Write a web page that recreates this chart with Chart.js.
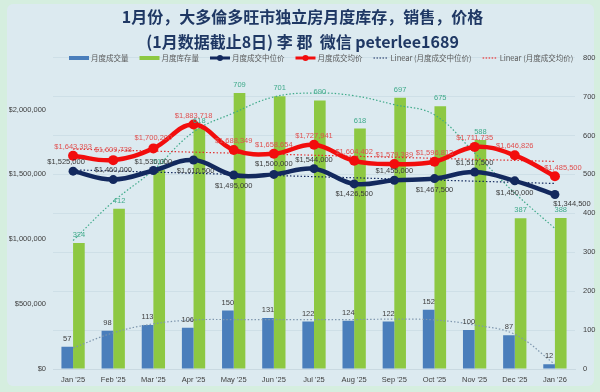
<!DOCTYPE html>
<html>
<head>
<meta charset="utf-8">
<script src="https://cdn.jsdelivr.net/npm/chart.js@4.4.1/dist/chart.umd.min.js"></script>
<style>
    html, body { margin: 0; padding: 0; background: #D5EEDF; }
    #wrap { width: 600px; height: 392px; }
</style>
</head>
<body>
<div id="wrap"><canvas id="chart"></canvas></div>
<script>
const months = ["Jan '25", "Feb '25", "Mar '25", "Apr '25", "May '25", "Jun '25", "Jul '25", "Aug '25", "Sep '25", "Oct '25", "Nov '25", "Dec '25", "Jan '26"];
const sales = [57, 98, 113, 106, 150, 131, 122, 124, 122, 152, 100, 87, 12];
const inventory = [324, 412, 512, 618, 709, 701, 690, 618, 697, 675, 588, 387, 388];
const medianPrice = [1525000, 1460000, 1530000, 1610500, 1495000, 1500000, 1544000, 1426500, 1455000, 1467500, 1517500, 1450000, 1344500];
const avgPrice = [1643393, 1609738, 1700200, 1883718, 1688349, 1658654, 1727941, 1604402, 1579389, 1596813, 1711735, 1646826, 1485500];
// trend lines
const medianTrend = [1535000, null, null, null, null, null, null, null, null, null, null, null, 1430000];
const avgTrend = [1695000, null, null, null, null, null, null, null, null, null, null, null, 1600000];
const inventoryTrend = [330, 430, 511, 609, 658, 699, 709, 702, 679, 653, 555, 452, 361];
const salesTrend = [54, 93, 116, 126, 127, 127, 127, 127, 128, 126, 113, 89, 12];
const priceTicks = [0, 500000, 1000000, 1500000, 2000000];
const countTicks = [0, 100, 200, 300, 400, 500, 600, 700, 800];

const numFont = "'Liberation Sans', sans-serif";
const cjkFont = "'Noto Sans CJK SC', sans-serif";
const money = v => "$" + v.toLocaleString("en-US");

const C = {
    blue: "#4A7EBB", green: "#8DC842", navy: "#13295E", red: "#F20D0D",
    greenTrend: "#3FAA8A", blueTrend: "#7F97AE", text: "#404040"
};

// label offsets per point (style only)
const medianDy = [-9, -10, -9, 11, 11, -10, -9, 10, -9, 11, -9, 12, 9];
const medianDx = [-7, 0, 0, 2, 0, 0, 0, 0, 0, 0, 0, 0, 17];
const avgDy = [-9, -10, -10, -9, -9, -9, -9, -9, -9, -9, -9, -9, -8];
const avgDx = [0, 0, 0, 0, 0, 0, 0, 0, 0, 0, 0, 0, 8];

const labelConfigs = {
    0: { color: C.text, dy: () => -8, dx: () => 0, fmt: v => v },
    1: { color: C.greenTrend, dy: () => -8, dx: () => 0, fmt: v => v },
    2: { color: "#3A3A3A", dy: i => medianDy[i], dx: i => medianDx[i], fmt: money },
    3: { color: "#E05050", dy: i => avgDy[i], dx: i => avgDx[i], fmt: money }
};

const background = {
    id: "background",
    beforeDraw(chart) {
        const ctx = chart.ctx;
        ctx.save();
        ctx.fillStyle = "#D5EEDF";
        ctx.fillRect(0, 0, chart.width, chart.height);
        ctx.fillStyle = "#DCEAF0";
        ctx.beginPath();
        ctx.roundRect(7, 4, chart.width - 13, chart.height - 10, 6);
        ctx.fill();
        ctx.restore();
    }
};

const dataLabels = {
    id: "dataLabels",
    afterDatasetsDraw(chart) {
        const ctx = chart.ctx;
        ctx.save();
        ctx.font = "7.5px " + numFont;
        ctx.textAlign = "center";
        ctx.textBaseline = "middle";
        [0, 1, 3, 2].forEach(i => {
            const cfg = labelConfigs[i];
            const data = chart.data.datasets[i].data;
            ctx.fillStyle = cfg.color;
            chart.getDatasetMeta(i).data.forEach((el, j) => {
                if (data[j] == null) return;
                ctx.fillText(cfg.fmt(data[j]), el.x + cfg.dx(j), el.y + cfg.dy(j));
            });
        });
        ctx.restore();
    }
};

const legendItems = [
    { text: "月度成交量", kind: "box", color: C.blue },
    { text: "月度库存量", kind: "box", color: C.green },
    { text: "月度成交中位价", kind: "dot", color: C.navy },
    { text: "月度成交均价", kind: "dot", color: C.red },
    { text: "Linear (月度成交中位价)", kind: "dash", color: C.navy },
    { text: "Linear (月度成交均价)", kind: "dash", color: C.red }
];

const legend = {
    id: "customLegend",
    afterDraw(chart) {
        const ctx = chart.ctx;
        const y = 58;
        let x = 69;
        ctx.save();
        ctx.font = "7.5px " + cjkFont;
        ctx.textBaseline = "middle";
        legendItems.forEach(item => {
            const w = item.kind === "dash" ? 15 : 20;
            ctx.strokeStyle = ctx.fillStyle = item.color;
            if (item.kind === "box") {
                ctx.fillRect(x, y - 2, w, 4);
            } else if (item.kind === "dot") {
                ctx.lineWidth = 3;
                ctx.beginPath(); ctx.moveTo(x, y); ctx.lineTo(x + w, y); ctx.stroke();
                ctx.beginPath(); ctx.arc(x + w / 2, y, 3, 0, Math.PI * 2); ctx.fill();
            } else {
                ctx.lineWidth = 1;
                ctx.setLineDash([1.5, 1.5]);
                ctx.beginPath(); ctx.moveTo(x, y); ctx.lineTo(x + w, y); ctx.stroke();
                ctx.setLineDash([]);
            }
            x += w + 2;
            ctx.fillStyle = "#595959";
            ctx.fillText(item.text, x, y);
            x += ctx.measureText(item.text).width + 11;
        });
        ctx.restore();
    }
};

new Chart(document.getElementById("chart"), {
    data: {
        labels: months,
        datasets: [{
            type: "bar", label: "月度成交量", data: sales, yAxisID: "y1",
            backgroundColor: C.blue, order: 10
        }, {
            type: "bar", label: "月度库存量", data: inventory, yAxisID: "y1",
            backgroundColor: C.green, order: 10
        }, {
            type: "line", label: "月度成交中位价", data: medianPrice, yAxisID: "y",
            borderColor: C.navy, backgroundColor: C.navy, borderWidth: 4.5,
            pointRadius: 4.5, pointBorderWidth: 0, tension: 0.4, order: 1
        }, {
            type: "line", label: "月度成交均价", data: avgPrice, yAxisID: "y",
            borderColor: C.red, backgroundColor: C.red, borderWidth: 4.5,
            pointRadius: 5, pointBorderWidth: 0, tension: 0.4, order: 1
        }, {
            type: "line", label: "Linear (月度成交中位价)", data: medianTrend, yAxisID: "y",
            borderColor: C.navy, borderWidth: 1.2, borderDash: [1.5, 2], pointRadius: 0,
            spanGaps: true, order: 3
        }, {
            type: "line", label: "Linear (月度成交均价)", data: avgTrend, yAxisID: "y",
            borderColor: "#E03030", borderWidth: 1.2, borderDash: [1.5, 2], pointRadius: 0,
            spanGaps: true, order: 3
        }, {
            type: "line", label: "库存趋势", data: inventoryTrend, yAxisID: "y1",
            borderColor: C.greenTrend, borderWidth: 1.2, borderDash: [1.5, 2], pointRadius: 0,
            tension: 0.4, order: 3
        }, {
            type: "line", label: "成交趋势", data: salesTrend, yAxisID: "y1",
            borderColor: C.blueTrend, borderWidth: 1.2, borderDash: [1.5, 2], pointRadius: 0,
            tension: 0.4, order: 3
        }]
    },
    options: {
        responsive: true,
        maintainAspectRatio: false,
        animation: false,
        datasets: { bar: { categoryPercentage: 0.58, barPercentage: 1.0 } },
        layout: { padding: { left: 9, right: 4, bottom: 2, top: 0 } },
        plugins: {
            legend: { display: false },
            tooltip: { enabled: false },
            title: {
                display: true,
                text: ["1月份，大多倫多旺市独立房月度库存，销售，价格", "(1月数据截止8日) 李 郡  微信 peterlee1689"],
                color: "#1F3864",
                font: { family: cjkFont, size: 16, weight: "bold", lineHeight: 1.55 },
                padding: { top: 5, bottom: 3 }
            }
        },
        scales: {
            x: {
                grid: { display: false, drawTicks: false },
                border: { color: "#C9D9E1" },
                ticks: { color: C.text, font: { family: numFont, size: 7.5 }, padding: 6, maxRotation: 0 }
            },
            y: {
                position: "left", min: 0, max: 2400000,
                afterBuildTicks: axis => { axis.ticks = priceTicks.map(v => ({ value: v })); },
                afterFit: axis => { axis.width = 44; },
                grid: { display: false, drawTicks: false },
                border: { display: false },
                ticks: { color: C.text, font: { family: numFont, size: 7.5 }, padding: 7, callback: v => money(v) }
            },
            y1: {
                position: "right", min: 0, max: 800,
                afterBuildTicks: axis => { axis.ticks = countTicks.map(v => ({ value: v })); },
                afterFit: axis => { axis.width = 21; },
                grid: { color: "#CEDFE7", drawTicks: false },
                border: { display: false },
                ticks: { color: C.text, font: { family: numFont, size: 7.5 }, padding: 8 }
            }
        }
    },
    plugins: [background, dataLabels, legend]
});
</script>
</body>
</html>
